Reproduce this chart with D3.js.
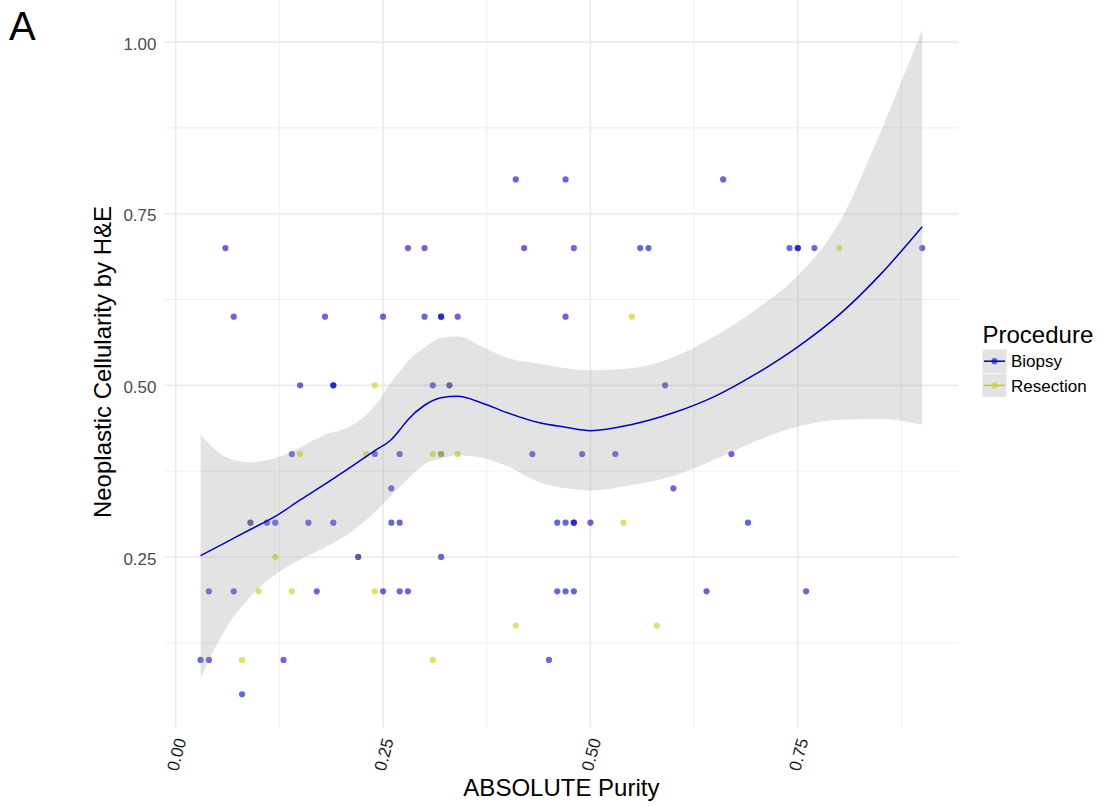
<!DOCTYPE html>
<html>
<head>
<meta charset="utf-8">
<script src="https://cdn.jsdelivr.net/npm/d3@7"></script>
<style>
  html, body { margin: 0; padding: 0; background: #fff; }
  svg { display: block; font-family: "Liberation Sans", Arial, Helvetica, sans-serif; }
</style>
</head>
<body>
<svg id="chart" width="1116" height="806"></svg>
<script>
// Samples: ABSOLUTE purity, H&E neoplastic cellularity, and procedure type (drawn in this order)
const purity = [
  0.41, 0.47, 0.66,
  0.06, 0.28, 0.30, 0.42, 0.48, 0.56, 0.57, 0.74, 0.75, 0.75, 0.77, 0.80, 0.90,
  0.07, 0.18, 0.25, 0.30, 0.32, 0.32, 0.34, 0.47, 0.55,
  0.15, 0.19, 0.19, 0.24, 0.31, 0.33, 0.33, 0.59,
  0.14, 0.15, 0.23, 0.24, 0.27, 0.31, 0.32, 0.32, 0.34, 0.43, 0.49, 0.53, 0.67,
  0.26, 0.60,
  0.09, 0.09, 0.11, 0.12, 0.16, 0.19, 0.26, 0.27, 0.46, 0.47, 0.48, 0.48, 0.50, 0.54, 0.69,
  0.12, 0.22, 0.22, 0.32,
  0.04, 0.07, 0.10, 0.14, 0.17, 0.24, 0.25, 0.27, 0.28, 0.46, 0.47, 0.48, 0.64, 0.76,
  0.41, 0.58,
  0.03, 0.04, 0.08, 0.13, 0.31, 0.45,
  0.08
];
const cellularity = [
  0.8, 0.8, 0.8,
  0.7, 0.7, 0.7, 0.7, 0.7, 0.7, 0.7, 0.7, 0.7, 0.7, 0.7, 0.7, 0.7,
  0.6, 0.6, 0.6, 0.6, 0.6, 0.6, 0.6, 0.6, 0.6,
  0.5, 0.5, 0.5, 0.5, 0.5, 0.5, 0.5, 0.5,
  0.4, 0.4, 0.4, 0.4, 0.4, 0.4, 0.4, 0.4, 0.4, 0.4, 0.4, 0.4, 0.4,
  0.35, 0.35,
  0.3, 0.3, 0.3, 0.3, 0.3, 0.3, 0.3, 0.3, 0.3, 0.3, 0.3, 0.3, 0.3, 0.3, 0.3,
  0.25, 0.25, 0.25, 0.25,
  0.2, 0.2, 0.2, 0.2, 0.2, 0.2, 0.2, 0.2, 0.2, 0.2, 0.2, 0.2, 0.2, 0.2,
  0.15, 0.15,
  0.1, 0.1, 0.1, 0.1, 0.1, 0.1,
  0.05
];
const procedure = [
  "B","B","B",
  "B","B","B","B","B","B","B","B","B","B","B","R","B",
  "B","B","B","B","B","B","B","B","R",
  "B","B","B","R","B","R","B","B",
  "B","R","R","B","B","R","B","R","R","B","B","B","B",
  "B","B",
  "R","B","B","B","B","B","B","B","B","B","B","B","B","R","B",
  "R","R","B","B",
  "B","B","R","R","B","R","B","B","B","B","B","B","B","B",
  "R","R",
  "B","B","R","B","R","B",
  "B"
];

// Loess smooth with its confidence band
const smoothX   = [0.03, 0.06, 0.09, 0.12, 0.15, 0.18, 0.21, 0.24, 0.26, 0.27, 0.28, 0.30, 0.32, 0.34, 0.37, 0.40, 0.44, 0.47, 0.50, 0.55, 0.60, 0.65, 0.70, 0.75, 0.80, 0.85, 0.90];
const smoothFit = [0.252, 0.271, 0.290, 0.309, 0.333, 0.356, 0.380, 0.405, 0.421, 0.435, 0.450, 0.471, 0.482, 0.484, 0.474, 0.460, 0.445, 0.439, 0.434, 0.443, 0.460, 0.484, 0.517, 0.556, 0.603, 0.662, 0.731];
const smoothLo  = [0.073, 0.145, 0.192, 0.224, 0.246, 0.264, 0.285, 0.315, 0.340, 0.352, 0.364, 0.385, 0.393, 0.398, 0.394, 0.382, 0.358, 0.350, 0.347, 0.355, 0.368, 0.392, 0.419, 0.440, 0.450, 0.451, 0.443];
const smoothHi  = [0.428, 0.396, 0.388, 0.394, 0.410, 0.428, 0.440, 0.470, 0.505, 0.520, 0.535, 0.555, 0.569, 0.571, 0.556, 0.540, 0.531, 0.525, 0.522, 0.525, 0.541, 0.572, 0.611, 0.660, 0.737, 0.870, 1.018];

const procedureKeys   = ["B", "R"];
const procedureLabels = ["Biopsy", "Resection"];
const xTicks = [0, 0.25, 0.5, 0.75];
const yTicks = [0.25, 0.5, 0.75, 1.0];
const xMinor = [0.125, 0.375, 0.625, 0.875];
const yMinor = [0.125, 0.375, 0.625, 0.875];

const colours = { B: "#0000CD", R: "#CDCD00" };

const svg = d3.select("#chart");
const panel = { left: 164.5, right: 958.3, top: -3.5, bottom: 727.5 };

// ggplot-style 5% expansion of the data range
function expand(ext) { const d = (ext[1] - ext[0]) * 0.05; return [ext[0] - d, ext[1] + d]; }
const xExt = d3.extent(purity.concat(smoothX));
const yExt = [d3.min(cellularity.concat(smoothLo)), d3.max(cellularity.concat(smoothHi))];

const x = d3.scaleLinear().domain(expand(xExt)).range([panel.left, panel.right]);
const y = d3.scaleLinear().domain(expand(yExt)).range([panel.bottom, panel.top]);

// Grid
const grid = svg.append("g");
grid.selectAll(".xminor").data(xMinor).join("line")
  .attr("x1", d => x(d)).attr("x2", d => x(d)).attr("y1", panel.top).attr("y2", panel.bottom)
  .attr("stroke", "#ebebeb").attr("stroke-width", 0.8);
grid.selectAll(".yminor").data(yMinor).join("line")
  .attr("y1", d => y(d)).attr("y2", d => y(d)).attr("x1", panel.left).attr("x2", panel.right)
  .attr("stroke", "#ebebeb").attr("stroke-width", 0.8);
grid.selectAll(".xmajor").data(xTicks).join("line")
  .attr("x1", d => x(d)).attr("x2", d => x(d)).attr("y1", panel.top).attr("y2", panel.bottom)
  .attr("stroke", "#ebebeb").attr("stroke-width", 1.6);
grid.selectAll(".ymajor").data(yTicks).join("line")
  .attr("y1", d => y(d)).attr("y2", d => y(d)).attr("x1", panel.left).attr("x2", panel.right)
  .attr("stroke", "#ebebeb").attr("stroke-width", 1.6);

// Points
svg.append("g").selectAll("circle").data(purity.map((p, i) => i)).join("circle")
  .attr("cx", i => x(purity[i]))
  .attr("cy", i => y(cellularity[i]))
  .attr("r", 3.1)
  .attr("fill", i => colours[procedure[i]])
  .attr("fill-opacity", 0.6);

// Confidence band and fitted line
const band = smoothX.map((v, i) => ({ x: v, lo: smoothLo[i], hi: smoothHi[i], fit: smoothFit[i] }));
svg.append("path").datum(band)
  .attr("d", d3.area().x(d => x(d.x)).y0(d => y(d.lo)).y1(d => y(d.hi)).curve(d3.curveMonotoneX))
  .attr("fill", "#999999").attr("fill-opacity", 0.27);
svg.append("path").datum(band)
  .attr("d", d3.line().x(d => x(d.x)).y(d => y(d.fit)).curve(d3.curveMonotoneX))
  .attr("fill", "none").attr("stroke", colours.B).attr("stroke-width", 1.5);

// Axis labels
const yAxis = d3.axisLeft(y).tickValues(yTicks).tickFormat(d3.format(".2f")).tickSize(0).tickPadding(8);
const gy = svg.append("g").attr("transform", `translate(${panel.left},0)`).call(yAxis);
gy.select(".domain").remove();
gy.selectAll("text").attr("font-size", 17).attr("fill", "#4d4d4d")
  .attr("font-family", "Liberation Sans, Arial, sans-serif").attr("dy", "0.42em");

const xAxis = d3.axisBottom(x).tickValues(xTicks).tickFormat(d3.format(".2f")).tickSize(0);
const gx = svg.append("g").attr("transform", `translate(0,${panel.bottom})`).call(xAxis);
gx.select(".domain").remove();
gx.selectAll(".tick text")
  .attr("font-size", 17).attr("fill", "#1a1a1a")
  .attr("font-family", "Liberation Sans, Arial, sans-serif")
  .attr("text-anchor", "end")
  .attr("x", 0).attr("y", 0).attr("dy", "0.35em")
  .attr("transform", "translate(4.5,11) rotate(-75)");

// Titles
svg.append("text").attr("x", (panel.left + panel.right) / 2).attr("y", 796)
  .attr("text-anchor", "middle").attr("font-size", 24).attr("fill", "#000")
  .text("ABSOLUTE Purity");
svg.append("text").attr("transform", `translate(111,${(panel.top + panel.bottom) / 2}) rotate(-90)`)
  .attr("text-anchor", "middle").attr("font-size", 24).attr("fill", "#000")
  .text("Neoplastic Cellularity by H&E");
svg.append("text").attr("x", 9).attr("y", 40).attr("font-size", 40).attr("fill", "#000").text("A");

// Legend
const legend = svg.append("g").attr("transform", "translate(982.5,0)");
legend.append("text").attr("x", 0).attr("y", 342.5).attr("font-size", 24).attr("fill", "#000").text("Procedure");
procedureKeys.forEach((k, i) => {
  const top = 349.5 + i * 24.2;
  legend.append("rect").attr("x", 0).attr("y", top).attr("width", 24).attr("height", 23.4)
    .attr("fill", "#999999").attr("fill-opacity", 0.27);
  legend.append("line").attr("x1", 1.5).attr("x2", 22.5).attr("y1", top + 11.7).attr("y2", top + 11.7)
    .attr("stroke", colours[k]).attr("stroke-width", 1.5);
  legend.append("circle").attr("cx", 12).attr("cy", top + 11.7).attr("r", 3.1)
    .attr("fill", colours[k]).attr("fill-opacity", 0.6);
  legend.append("text").attr("x", 28.5).attr("y", top + 11.7).attr("dy", "0.36em")
    .attr("font-size", 17).attr("fill", "#000").text(procedureLabels[i]);
});
</script>
</body>
</html>
